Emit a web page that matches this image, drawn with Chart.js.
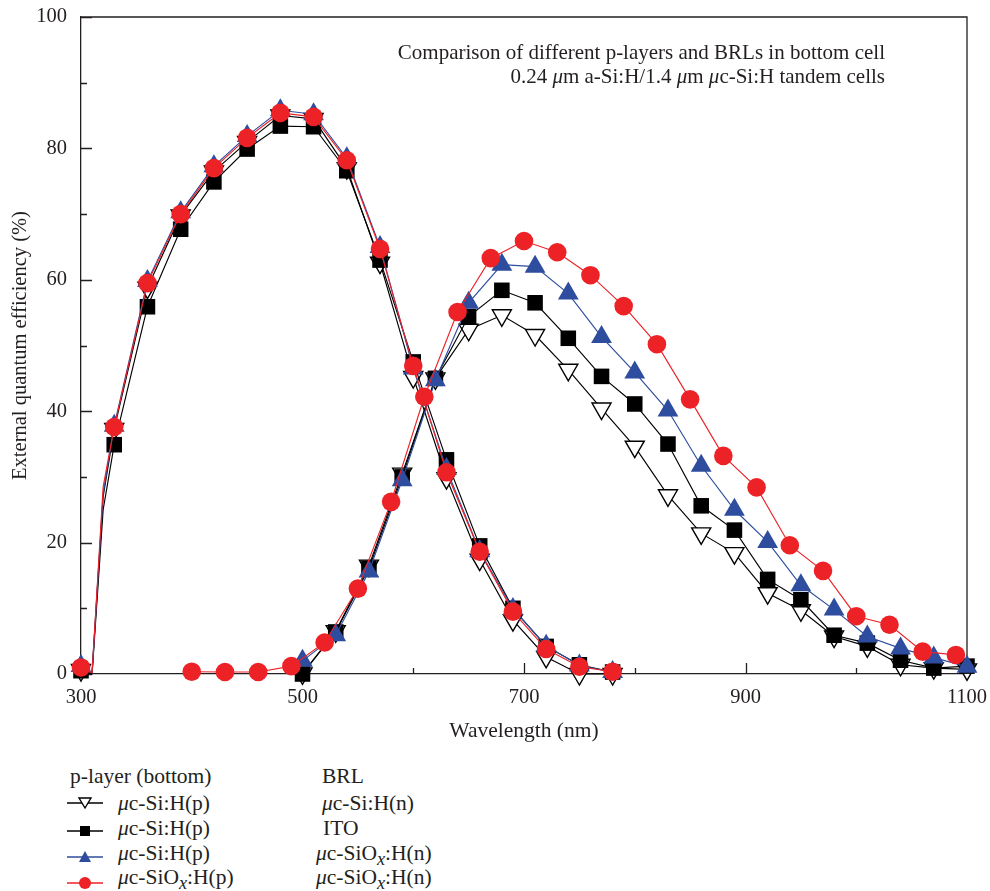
<!DOCTYPE html>
<html><head><meta charset="utf-8">
<script src="https://cdn.jsdelivr.net/npm/chart.js@4/dist/chart.umd.min.js"></script>
<style>
html,body{margin:0;padding:0;background:#fff;}
#wrap{position:relative;width:990px;height:891px;font-family:"Liberation Serif","DejaVu Serif",serif;color:#231f20;overflow:hidden;}
#c{position:absolute;left:0;top:0;}
.note{position:absolute;right:105px;top:40px;text-align:right;font-size:21px;line-height:24px;white-space:nowrap;}
.lg{position:absolute;font-size:21.5px;line-height:20px;white-space:nowrap;}
.sub{font-style:italic;font-size:0.85em;position:relative;top:0.25em;}
i{font-style:italic;}
svg.g{position:absolute;}
</style></head>
<body><div id="wrap">
<canvas id="c" width="990" height="760"></canvas>
<div class="note">Comparison of different p-layers and BRLs in bottom cell<br>0.24 <i>μ</i>m a-Si:H/1.4 <i>μ</i>m <i>μ</i>c-Si:H tandem cells</div>

<div class="lg" style="left:70px;top:766px;">p-layer (bottom)</div>
<div class="lg" style="left:322px;top:766px;">BRL</div>

<svg class="g" style="left:60px;top:790px;" width="50" height="26"><line x1="7" y1="13" x2="43" y2="13" stroke="#000" stroke-width="1.3"/><polygon points="19,8 31,8 25,18" fill="#fff" stroke="#000" stroke-width="1.4"/></svg>
<div class="lg" style="left:118px;top:793px;"><i>μ</i>c-Si:H(p)</div>
<div class="lg" style="left:322px;top:793px;"><i>μ</i>c-Si:H(n)</div>

<svg class="g" style="left:60px;top:818px;" width="50" height="26"><line x1="7" y1="13" x2="43" y2="13" stroke="#000" stroke-width="1.3"/><rect x="20" y="8" width="10" height="10" fill="#000"/></svg>
<div class="lg" style="left:118px;top:818px;"><i>μ</i>c-Si:H(p)</div>
<div class="lg" style="left:323px;top:818px;">ITO</div>

<svg class="g" style="left:60px;top:844px;" width="50" height="26"><line x1="7" y1="13" x2="43" y2="13" stroke="#2e4d9e" stroke-width="1.3"/><polygon points="19,18 31,18 25,7" fill="#2e4d9e"/></svg>
<div class="lg" style="left:118px;top:843px;"><i>μ</i>c-Si:H(p)</div>
<div class="lg" style="left:316px;top:843px;"><i>μ</i>c-SiO<span class="sub">x</span>:H(n)</div>

<svg class="g" style="left:60px;top:870px;" width="50" height="26"><line x1="7" y1="13" x2="43" y2="13" stroke="#ec2227" stroke-width="1.3"/><circle cx="25" cy="13" r="6" fill="#ec2227"/></svg>
<div class="lg" style="left:118px;top:867px;"><i>μ</i>c-SiO<span class="sub">x</span>:H(p)</div>
<div class="lg" style="left:316px;top:867px;"><i>μ</i>c-SiO<span class="sub">x</span>:H(n)</div>
</div>
<script>
// ---------- data ----------
const topWavelengths = [300, 310, 320, 330, 360, 390, 420, 450, 480, 510, 540, 570, 600, 630, 660, 690, 720, 750, 780];
const topOpenTri  = [0.6, 0.2, 27.0, 37.3, 58.8, 69.8, 76.5, 81.0, 85.0, 84.5, 77.0, 62.6, 45.2, 29.8, 17.4, 8.2, 2.6, 0.0, 0.0];
const topSquare   = [0.5, 0.0, 25.0, 34.9, 55.9, 67.7, 74.9, 79.9, 83.4, 83.3, 76.6, 63.0, 47.5, 32.6, 19.5, 10.0, 4.2, 1.4, 0.3];
const topBlue     = [1.2, 0.2, 27.5, 37.8, 59.8, 70.3, 77.3, 81.9, 85.8, 85.2, 78.5, 65.0, 46.5, 31.2, 18.7, 9.9, 4.3, 1.3, 0.3];
const topRed      = [1.0, 0.2, 28.5, 37.6, 59.5, 70.0, 77.0, 81.6, 85.4, 84.8, 78.2, 64.7, 46.9, 30.7, 18.6, 9.5, 3.8, 1.1, 0.35];
const topMarkerWavelengths = [300, 330, 360, 390, 420, 450, 480, 510, 540, 570, 600, 630, 660, 690, 720, 750, 780];

const bottomWavelengths = [500, 530, 560, 590, 620, 650, 680, 710, 740, 770, 800, 830, 860, 890, 920, 950, 980, 1010, 1040, 1070, 1100];
const bottomOpenTri = [0.1, 6.5, 16.5, 30.5, 45.0, 52.4, 54.6, 51.6, 46.3, 40.4, 34.6, 27.2, 21.4, 18.4, 12.3, 9.7, 5.7, 4.2, 1.4, 0.9, 0.7];
const bottomSquare  = [0.0, 6.4, 16.1, 30.0, 45.0, 54.4, 58.4, 56.5, 51.1, 45.3, 41.1, 35.0, 25.6, 21.9, 14.4, 11.3, 5.9, 4.7, 2.1, 0.9, 1.2];
const bottomBlue    = [2.0, 5.9, 15.6, 29.5, 44.7, 56.5, 62.3, 62.0, 57.9, 51.3, 45.9, 40.1, 31.7, 25.0, 20.1, 13.5, 9.8, 5.7, 3.9, 2.5, 1.1];
const bottomRedWavelengths = [400, 430, 460, 490, 520, 550, 580, 610, 640, 670, 700, 730, 760, 790, 820, 850, 880, 910, 940, 970, 1000, 1030, 1060, 1090];
const bottomRed     = [0.35, 0.3, 0.3, 1.2, 4.8, 13.0, 26.2, 42.2, 55.1, 63.3, 65.9, 64.2, 60.7, 56.0, 50.2, 41.8, 33.2, 28.4, 19.6, 15.7, 8.8, 7.5, 3.4, 2.9];

const xTickLabels = [300, 500, 700, 900, 1100];
const xMinorTicks = [400, 600, 800, 1000];
const yTickLabels = [0, 20, 40, 60, 80, 100];
const yMinorTicks = [10, 30, 50, 70, 90];

// ---------- styles ----------
const TXT = '#231f20';
const FONT = 'Liberation Serif';
const styles = {
  open:   {line: '#000000', shape: 'triangle', rot: 180, fill: '#ffffff', edge: '#000000', edgeW: 1.4, r: 11, order: 3},
  square: {line: '#000000', shape: 'rect', rot: 0, fill: '#000000', edge: '#000000', edgeW: 0, r: 11, order: 2},
  blue:   {line: '#2e4d9e', shape: 'triangle', rot: 0, fill: '#2e4d9e', edge: '#2e4d9e', edgeW: 0, r: 12, order: 1},
  red:    {line: '#ec2227', shape: 'circle', rot: 0, fill: '#ec2227', edge: '#ec2227', edgeW: 0, r: 9.3, order: 0}
};

function makeDataset(xs, ys, st, markers) {
  const rad = ctx => (markers == null || (ctx.raw && markers.includes(ctx.raw.x))) ? st.r : 0;
  return {
    data: xs.map((x, i) => ({x: x, y: ys[i]})),
    borderColor: st.line,
    borderWidth: 1.15,
    tension: 0,
    pointStyle: st.shape,
    pointRotation: st.rot,
    pointBackgroundColor: st.fill,
    pointBorderColor: st.edge,
    pointBorderWidth: st.edgeW,
    pointRadius: rad,
    pointHoverRadius: rad,
    clip: false,
    order: st.order
  };
}

const datasets = [
  makeDataset(topWavelengths, topRed, styles.red, topMarkerWavelengths),
  makeDataset(topWavelengths, topBlue, styles.blue, topMarkerWavelengths),
  makeDataset(topWavelengths, topSquare, styles.square, topMarkerWavelengths),
  makeDataset(topWavelengths, topOpenTri, styles.open, topMarkerWavelengths),
  makeDataset(bottomRedWavelengths, bottomRed, styles.red, null),
  makeDataset(bottomWavelengths, bottomBlue, styles.blue, null),
  makeDataset(bottomWavelengths, bottomSquare, styles.square, null),
  makeDataset(bottomWavelengths, bottomOpenTri, styles.open, null)
];

// plot box in pixels: left 81, top 17, right 967, bottom 674 (canvas 990 x 760)
const box = {padTop: 17, padRight: 23, yWidth: 81, xHeight: 86};

const framePlugin = {
  id: 'frame',
  beforeDatasetsDraw(chart) {
    const {ctx, chartArea: a, scales: {x, y}} = chart;
    ctx.save();
    ctx.strokeStyle = TXT;
    ctx.lineWidth = 1.3;
    ctx.beginPath();
    ctx.moveTo(a.left, a.top);
    ctx.lineTo(a.right, a.top);
    ctx.lineTo(a.right, a.bottom);
    xTickLabels.concat(xMinorTicks).forEach(v => {
      const px = Math.round(x.getPixelForValue(v)) + 0.5;
      const len = xTickLabels.includes(v) ? 11 : 6;
      ctx.moveTo(px, a.bottom);
      ctx.lineTo(px, a.bottom - len);
    });
    yTickLabels.concat(yMinorTicks).forEach(v => {
      const py = Math.round(y.getPixelForValue(v)) + 0.5;
      const len = yTickLabels.includes(v) ? 11 : 6;
      ctx.moveTo(a.left, py);
      ctx.lineTo(a.left + len, py);
    });
    ctx.stroke();
    ctx.restore();
  }
};

new Chart(document.getElementById('c'), {
  type: 'line',
  data: {datasets},
  plugins: [framePlugin],
  options: {
    responsive: false,
    animation: false,
    events: [],
    layout: {padding: {top: box.padTop, right: box.padRight, left: 0, bottom: 0}},
    plugins: {legend: {display: false}, tooltip: {enabled: false}},
    scales: {
      x: {
        type: 'linear', min: 300, max: 1100,
        afterBuildTicks: s => { s.ticks = xTickLabels.map(v => ({value: v})); },
        afterFit: s => { s.height = box.xHeight; s.paddingLeft = 0; s.paddingRight = 0; s.paddingTop = 0; s.paddingBottom = 0; },
        grid: {display: false, drawTicks: false},
        border: {display: true, color: TXT, width: 1.3},
        ticks: {autoSkip: false, maxRotation: 0, padding: 11, color: TXT, font: {family: FONT, size: 20.5}, callback: v => String(v)},
        title: {display: true, text: 'Wavelength (nm)', color: TXT, font: {family: FONT, size: 21.5}, padding: {top: 0, bottom: 16}}
      },
      y: {
        type: 'linear', min: 0, max: 100,
        afterBuildTicks: s => { s.ticks = yTickLabels.map(v => ({value: v})); },
        afterFit: s => { s.width = box.yWidth; s.paddingLeft = 0; s.paddingRight = 0; s.paddingTop = 0; s.paddingBottom = 0; },
        grid: {display: false, drawTicks: false},
        border: {display: true, color: TXT, width: 1.3},
        ticks: {autoSkip: false, padding: 14, color: TXT, font: {family: FONT, size: 20.5}, callback: v => String(v)},
        title: {display: true, text: 'External quantum efficiency (%)', color: TXT, font: {family: FONT, size: 20.5}, padding: {top: 8, bottom: 0}}
      }
    }
  }
});
</script>
</body></html>
